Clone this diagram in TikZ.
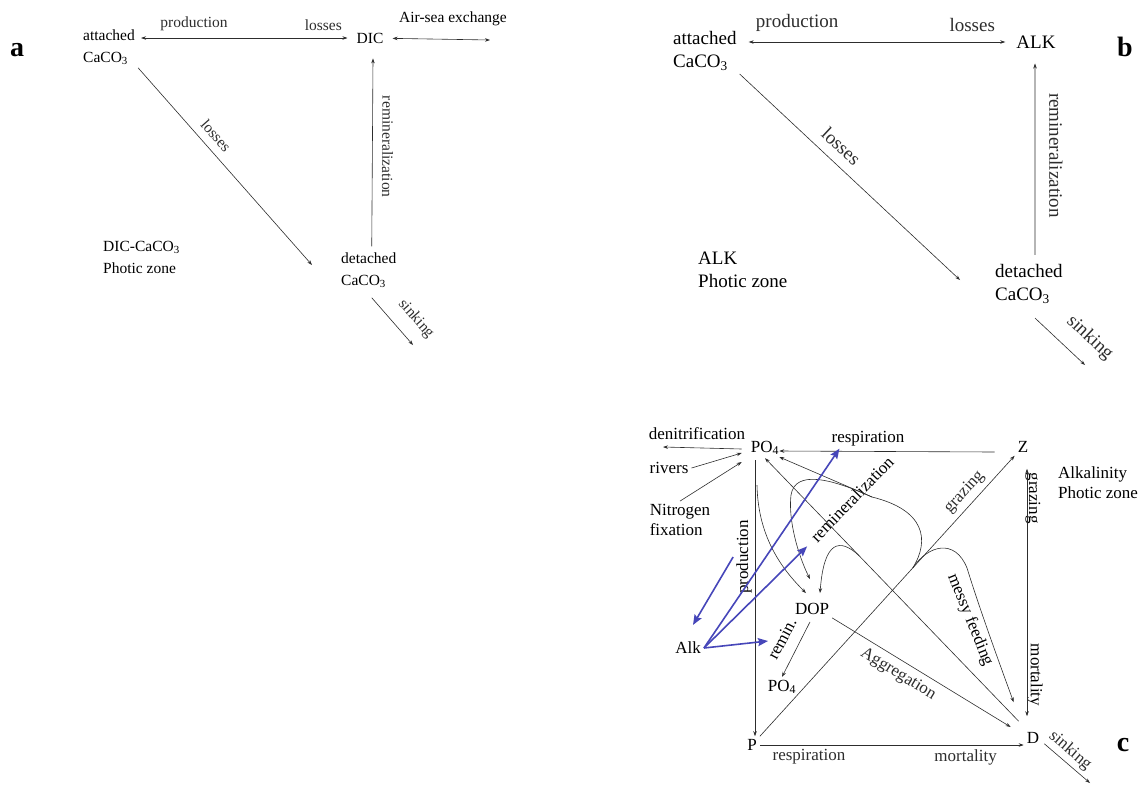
\documentclass[tikz,border=0pt]{standalone}
\usepackage{fontspec}
\setmainfont{Liberation Serif}
\usetikzlibrary{arrows.meta, positioning, calc}
\definecolor{alkblue}{RGB}{70,70,185}
\definecolor{flowgray}{RGB}{45,45,45}

\begin{document}
\begin{tikzpicture}[x=1pt, y=-1pt,
    every node/.style={inner sep=3pt},
    fa/.style={font=\fontsize{15.5}{22}\selectfont, align=left},
    fb/.style={font=\fontsize{19}{23.5}\selectfont, align=left},
    fc/.style={font=\fontsize{17}{20}\selectfont, align=left},
    tag/.style={font=\bfseries\fontsize{28}{28}\selectfont},
    flow/.style={-{Stealth[length=5pt,width=3.5pt]}, line width=0.6pt, flowgray},
    rflow/.style={{Stealth[length=5pt,width=3.5pt]}-, line width=0.6pt, flowgray},
    dflow/.style={{Stealth[length=5pt,width=3.5pt]}-{Stealth[length=5pt,width=3.5pt]},
                  line width=0.6pt, flowgray},
    alkflow/.style={-{Stealth[length=10pt,width=8pt,inset=1.5pt]}, line width=1.6pt, alkblue}
  ]
  \useasboundingbox (0,0) rectangle (1138,785);

  % (a) DIC and CaCO3
  \node[tag] (tagA) at (17,50) {a};
  \node[fa, anchor=west] (attA) at (80,47) {attached\\CaCO\textsubscript{3}};
  \node[fa] (dicA) at (370,38) {DIC};
  \node[fa, anchor=west] (detA) at (338,270) {detached\\CaCO\textsubscript{3}};
  \node[fa, anchor=west] (noteA) at (100,257) {DIC-CaCO\textsubscript{3}\\Photic zone};
  \node[fa] (airA) at (453,19) {Air-sea exchange};
  \coordinate (airEndA) at (490,40);
  \coordinate (sinkA) at (413,345);

  \draw[dflow, shorten <=3pt, shorten >=6pt] (attA.east |- dicA) -- (dicA)
      node[fa, pos=0.26, above=4pt] {production}
      node[fa, pos=0.86, above=4pt] {losses};
  \draw[dflow, shorten <=6pt] (dicA) -- (airEndA);
  \draw[flow] (attA.south east) -- ($(detA.west)+(-26,-5)$)
      node[fa, pos=0.39, sloped, above=5pt] {losses};
  \draw[rflow] ($(dicA.south)+(3,12)$) -- ($(detA.north)+(3,-3)$)
      node[fa, pos=0.47, sloped, allow upside down, above=6.5pt] {remineralization};
  \draw[flow] ($(detA.south)+(3,7)$) -- (sinkA)
      node[fa, pos=0.72, sloped, above=9pt] {sinking};

  % (b) alkalinity and CaCO3
  \node[tag] (tagB) at (1125,47) {b};
  \node[fb, anchor=west] (attB) at (670,51) {attached\\CaCO\textsubscript{3}};
  \node[fb] (alkB) at (1036,42) {ALK};
  \node[fb, anchor=west] (detB) at (992,284) {detached\\CaCO\textsubscript{3}};
  \node[fb, anchor=west] (noteB) at (695,270) {ALK\\Photic zone};
  \coordinate (sinkB) at (1085,365);

  \draw[dflow, shorten <=9pt, shorten >=8pt] (attB.east |- alkB) -- (alkB)
      node[fb, pos=0.21, above=7.5pt] {production}
      node[fb, pos=0.85, above=7.5pt] {losses};
  \draw[flow] (attB.south east) -- ($(detB.west)+(-32,-4)$)
      node[fb, pos=0.41, sloped, above=6.5pt] {losses};
  \draw[rflow] ($(alkB.south)+(-1,12)$) -- ($(detB.north)+(6,-6)$)
      node[fb, pos=0.48, sloped, allow upside down, above=11pt] {remineralization};
  \draw[flow] ($(detB.south)+(6,11)$) -- (sinkB)
      node[fb, pos=0.78, sloped, above=11pt] {sinking};

  % (c) alkalinity in the NPZD model
  \node[tag] (tagC) at (1123,745) {c};
  \node[fc] (poTop) at (765,448) {PO\textsubscript{4}};
  \node[fc] (zC) at (1023,447) {Z};
  \node[fc] (pC) at (752,745) {P};
  \node[fc] (dC) at (1033,738) {D};
  \node[fc] (dopC) at (812,609) {DOP};
  \node[fc] (poBot) at (782,687) {PO\textsubscript{4}};
  \node[fc] (alkC) at (688,648) {Alk};
  \node[fc] (denit) at (697,434) {denitrification};
  \node[fc] (rivers) at (669,468) {rivers};
  \node[fc] (nfix) at (680,520) {Nitrogen\\fixation};
  \node[fc, anchor=west] (noteC) at (1055,483) {Alkalinity\\Photic zone};
  \node[fc] (respZ) at (868,439) {respiration};
  \node[fc, rotate=46] (reminL) at (852,499) {remineralization};
  \node[fc, rotate=90] (prodL) at (744,557) {production};
  \node[fc, rotate=62] (reminS) at (782,639) {remin.};
  \node[fc, rotate=-90] (grazL) at (1033,498) {grazing};
  \node[fc, rotate=-90] (mortL) at (1035,675) {mortality};
  \node[fc, rotate=-68] (messyL) at (970,620) {messy feeding};

  \coordinate (denitEnd) at (663,447);
  \coordinate (sinkC) at (1090,783);
  \coordinate (exud) at ($(poTop.south)+(-8,27)$);
  \coordinate (zsplit) at ($(pC.north east)!0.6!(zC.south west)$);
  \coordinate (dstart) at ($(dC.north west)+(-5,-8)$);
  \coordinate (dsplit) at ($(dstart)!0.63!(poTop.south)$);
  \coordinate (mbranch) at (872,497);

  % sources and sinks of PO4
  \draw[flow] ($(poTop.west)+(-6,1)$) -- (denitEnd);
  \draw[flow] (rivers.east) -- ($(poTop.west)+(-6,5)$);
  \draw[flow] (nfix.north) -- ($(poTop.west)+(-6,14)$);

  % production, grazing, respiration
  \draw[flow] ($(poTop.south)+(-10,2)$) -- ($(pC.north)+(3,0)$);
  \draw[flow] (exud) .. controls (758,540) and (785,572) .. ($(dopC.north)+(-6,-7)$);
  \draw[flow] (pC.north east) -- (zC.south west)
      node[fc, pos=0.84, sloped, above=2pt] {grazing};
  \draw[flow] ($(zC.west)+(-20,5)$) -- ($(poTop.east)+(-3,3)$);
  \draw[dflow] ($(zC.south)+(4,13)$) -- ($(dC.north)+(-6,-13)$);

  % messy feeding
  \draw[line width=0.6pt, flowgray] (zsplit) .. controls (930,540) and (925,510) .. (mbranch);
  \draw[flow] (mbranch) -- ($(poTop.east)+(-3,9)$);
  \draw[flow] (mbranch) .. controls (830,478) and (795,470) .. (791,495)
      .. controls (788,520) and (798,555) .. ($(dopC.north)+(-2,-21)$);
  \draw[flow] (zsplit) .. controls (928,545) and (955,538) .. (967,568)
      .. controls (980,610) and (1000,665) .. ($(dC.north west)+(-10,-27)$);

  % detritus and DOP
  \draw[flow] (dstart) -- (poTop.south);
  \draw[flow] (dsplit) .. controls (840,538) and (824,540) .. ($(dopC.north)+(8,-7)$);
  \draw[flow] (dopC.south east) -- ($(dC.west)+(-13,-11)$)
      node[fc, pos=0.41, sloped, below=3pt] {Aggregation};
  \draw[flow] ($(dopC.south)+(-2,4)$) -- (poBot.north);
  \draw[flow] (pC.east) -- (pC.east -| dC.west)
      node[fc, pos=0.186, below=1pt] {respiration}
      node[fc, pos=0.78, below=1pt] {mortality};
  \draw[flow] ($(dC.south east)+(2,-3)$) -- (sinkC)
      node[fc, pos=0.4, sloped, above=0.5pt] {sinking};

  % alkalinity links
  \draw[alkflow] (alkC.east) -- ($(reminS)+(-14,2)$);
  \draw[alkflow] (alkC.east) -- ($(reminL.west)+(-4,5)$);
  \draw[alkflow] (alkC.east) -- ($(respZ.south west)+(11,-1)$);
  \draw[alkflow] (prodL.north) -- ($(alkC.north)+(5,-14)$);
\end{tikzpicture}
\end{document}
